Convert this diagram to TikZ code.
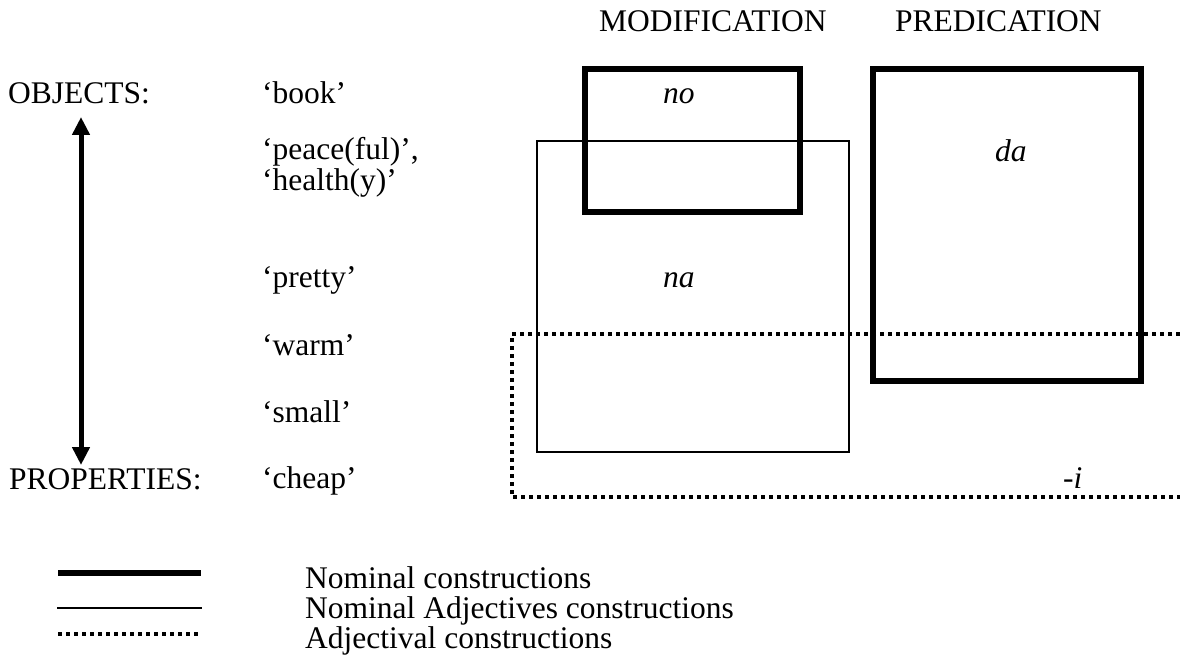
\documentclass[tikz,border=0pt]{standalone}
\usepackage{fontspec}
\setmainfont{Liberation Serif}
\usetikzlibrary{arrows.meta}
\begin{document}
\begin{tikzpicture}[x=1pt,y=-1pt,
  lbl/.style={anchor=base west,inner sep=0pt,font=\fontsize{31.5pt}{36pt}\selectfont},
  thickbox/.style={line width=6pt},
  thinbox/.style={line width=2pt},
  dotbox/.style={line width=4pt,dash pattern=on 4pt off 4pt},
  bigarrow/.style={line width=5pt,{Triangle[width=17pt,length=18pt]}-{Triangle[width=17pt,length=18pt]}}]
\useasboundingbox (0,0) rectangle (1180,663);
% headers
\node[lbl] (mod) at (599,32) {MODIFICATION};
\node[lbl] (pred) at (895,32) {PREDICATION};
% left column
\node[lbl] (obj) at (8,104) {OBJECTS:};
\node[lbl] (prop) at (9,489) {PROPERTIES:};
\coordinate (atop) at (81,117);
\coordinate (abot) at (81,465);
\draw[bigarrow] (atop) -- (abot);
% word column
\node[lbl] (book) at (262,104) {`book'};
\node[lbl] (peace) at (262,160) {`peace(ful)',};
\node[lbl] (health) at (262,191) {`health(y)'};
\node[lbl] (pretty) at (262,287) {`pretty'};
\node[lbl] (warm) at (262,355) {`warm'};
\node[lbl] (small) at (262,422) {`small'};
\node[lbl] (cheap) at (262,488) {`cheap'};
% boxes
\draw[thinbox] (537,141) rectangle (849,452);
\draw[thickbox] (585,69) rectangle (800,212);
\draw[thickbox] (873,69) rectangle (1141,381);
\draw[dotbox] (1180,334) -- (512,334) -- (512,497) -- (1180,497);
% markers
\node[lbl] (no) at (663,104) {\textit{no}};
\node[lbl] (na) at (663,287) {\textit{na}};
\node[lbl] (da) at (995,162) {\textit{da}};
\node[lbl] (ii) at (1063,488) {-\textit{i}};
% legend
\coordinate (l1a) at (58,573); \coordinate (l1b) at (201,573);
\coordinate (l2a) at (57,608); \coordinate (l2b) at (202,608);
\coordinate (l3a) at (58,634); \coordinate (l3b) at (198,634);
\draw[thickbox] (l1a) -- (l1b);
\draw[thinbox] (l2a) -- (l2b);
\draw[dotbox] (l3a) -- (l3b);
\node[lbl] (t1) at (305,588) {Nominal constructions};
\node[lbl] (t2) at (305,618) {Nominal Adjectives constructions};
\node[lbl] (t3) at (305,648) {Adjectival constructions};
\end{tikzpicture}
\end{document}
